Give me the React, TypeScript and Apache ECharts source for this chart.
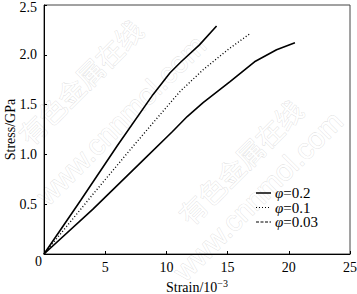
import React, { useEffect, useRef } from "react";
import * as echarts from "echarts";

const legendNames = ["0.2", "0.1", "0.03"];
// φ=0.2 (lower solid)
const phi02: number[][] = [[0, 0], [4, 0.45], [8, 0.93], [10.5, 1.23], [11.7, 1.38], [13, 1.52], [15.2, 1.73], [17.2, 1.93], [19, 2.05], [20.5, 2.12]];
// φ=0.1 (dotted)
const phi01: number[][] = [[0, 0], [4, 0.6], [7.2, 1.07], [9, 1.33], [11.1, 1.63], [13, 1.85], [15, 2.05], [16.8, 2.21]];
// φ=0.03 (steepest)
const phi003: number[][] = [[0, 0], [3, 0.54], [6, 1.09], [8.9, 1.6], [10.3, 1.82], [11.2, 1.93], [12.7, 2.1], [14.1, 2.29]];
const xTicks = [0, 5, 10, 15, 20, 25];
const yTicks = [0, 0.5, 1.0, 1.5, 2.0, 2.5];
const originLabel = "0";

const FONT = "Liberation Serif";

export default function App() {
  const ref = useRef<HTMLDivElement>(null);
  useEffect(() => {
    document.body.style.margin = "0";
    const chart = echarts.init(ref.current!, undefined, { renderer: "svg" });
    const wm = (text: string, x: number, y: number, size: number, family: string) => ({
      type: "text",
      x,
      y,
      rotation: Math.PI / 4,
      z: -10,
      silent: true,
      style: {
        text,
        fill: "#ffffff",
        stroke: "#dadada",
        lineWidth: 0.7,
        fontSize: size,
        fontFamily: family,
        align: "center",
        verticalAlign: "middle",
      },
    });
    const legendRow = (i: number, dash: any, label: string) => {
      const y = 193 + i * 14.5;
      return [
        {
          type: "line",
          shape: { x1: 256, y1: y, x2: 271, y2: y },
          style: { stroke: "#000", lineWidth: dash === "solid" ? 1.5 : 1.2, lineDash: dash === "solid" ? null : dash },
        },
        {
          type: "text",
          x: 275,
          y,
          style: {
            text: `{i|φ}{n|=${label}}`,
            verticalAlign: "middle",
            rich: {
              i: { fontFamily: FONT, fontSize: 15, fontStyle: "italic", fill: "#000" },
              n: { fontFamily: FONT, fontSize: 15, fill: "#000" },
            },
          },
        },
      ];
    };
    const yMax = yTicks[yTicks.length - 1];
    chart.setOption({
      animation: false,
      textStyle: { fontFamily: FONT },
      grid: {
        left: 44, right: 7, top: 5, bottom: 40,
        containLabel: false, outerBoundsMode: "none",
        show: true, borderColor: "#444", borderWidth: 1,
      },
      xAxis: {
        type: "value",
        min: xTicks[0],
        max: xTicks[xTicks.length - 1],
        interval: 5,
        name: "{b|Strain/10}{s|−3}",
        nameLocation: "middle",
        nameMoveOverlap: false,
        nameGap: 24,
        nameTextStyle: {
          fontFamily: FONT,
          rich: {
            b: { fontFamily: FONT, fontSize: 14, color: "#000", lineHeight: 16, verticalAlign: "bottom" },
            s: { fontFamily: FONT, fontSize: 10, color: "#000", lineHeight: 10, verticalAlign: "top" },
          },
        },
        axisLine: { lineStyle: { color: "#000", width: 1 } },
        axisTick: { inside: true, length: 3, lineStyle: { color: "#000" } },
        axisLabel: {
          fontFamily: FONT,
          fontSize: 14,
          color: "#000",
          margin: 6,
          formatter: (v: number) => (v === 0 ? "" : String(v)),
        },
        splitLine: { show: false },
      },
      yAxis: {
        type: "value",
        min: yTicks[0],
        max: yMax,
        interval: 0.5,
        name: "Stress/GPa",
        nameLocation: "middle",
        nameMoveOverlap: false,
        nameGap: 27,
        nameTextStyle: { fontFamily: FONT, fontSize: 14, color: "#000" },
        axisLine: { show: true, lineStyle: { color: "#000", width: 1 } },
        axisTick: { show: true, inside: true, length: 3, lineStyle: { color: "#000" } },
        axisLabel: {
          fontFamily: FONT,
          fontSize: 14,
          color: "#000",
          margin: 7,
          formatter: (v: number) => (v === 0 ? "" : v === yMax ? `{t|${v.toFixed(1)}}` : v.toFixed(1)),
          rich: { t: { fontFamily: FONT, fontSize: 14, color: "#000", padding: [5, 0, 0, 0] } },
        },
        splitLine: { show: false },
      },
      graphic: [
        wm("有色金属在线", 80, 82, 27, "Noto Sans CJK SC"),
        wm("www.cnnmol.com", 121, 120, 29, "Liberation Sans"),
        wm("有色金属在线", 240, 162, 27, "Noto Sans CJK SC"),
        wm("www.cnnmol.com", 258, 196, 29, "Liberation Sans"),
        {
          type: "text",
          x: 42,
          y: 261,
          style: { text: originLabel, fontFamily: FONT, fontSize: 14, fill: "#000", align: "right", verticalAlign: "middle" },
        },
        ...legendRow(0, "solid", legendNames[0]),
        ...legendRow(1, [1, 2], legendNames[1]),
        ...legendRow(2, [3, 1.5], legendNames[2]),
      ],
      series: [
        { name: "φ=0.2", type: "line", data: phi02, showSymbol: false, symbol: "none", lineStyle: { color: "#000", width: 1.6 } },
        { name: "φ=0.1", type: "line", data: phi01, showSymbol: false, symbol: "none", lineStyle: { color: "#000", width: 1.4, type: [1, 2.2] } },
        { name: "φ=0.03", type: "line", data: phi003, showSymbol: false, symbol: "none", lineStyle: { color: "#000", width: 1.6 } },
      ],
    });
    return () => chart.dispose();
  }, []);
  return <div ref={ref} style={{ position: "absolute", left: 0, top: 0, width: 357, height: 294 }} />;
}
